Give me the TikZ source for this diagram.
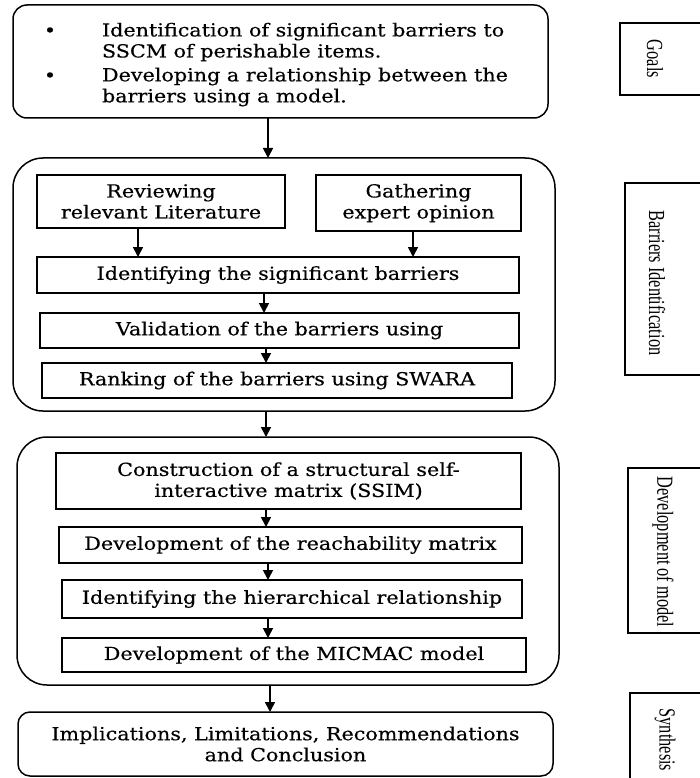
\documentclass[tikz,border=0pt]{standalone}
\usepackage{fontspec}
\usepackage{graphicx}
\setmainfont{DejaVu Serif}[FakeStretch=1.15,FakeBold=0.4]
\newfontfamily\sidefont{Liberation Serif}
\usetikzlibrary{arrows.meta}
\begin{document}
\begin{tikzpicture}[x=1pt,y=-1pt,
  every node/.style={inner sep=0pt, outer sep=0pt},
  txt/.style={font=\fontsize{18}{21}\selectfont, align=center},
  sqbox/.style={draw, line width=1.5pt, txt},
  rbox/.style={draw, line width=1.5pt, rounded corners=#1},
  sidebox/.style={draw, line width=1.5pt},
  sidetxt/.style={font=\sidefont\fontsize{23}{23}\selectfont, rotate=-90},
  arr/.style={-{Triangle[length=10pt,width=10pt]}, line width=1.7pt}]
\useasboundingbox (0,0) rectangle (700,778);
\clip (0,0) rectangle (700,778);
% Goals
\node[rbox=14pt, minimum width=535pt, minimum height=113pt] (goals) at (280.5,61.5) {};
\node[txt] (b1) at (50,32) {\textbullet};
\node[txt] (b2) at (50,77) {\textbullet};
\node[txt, anchor=west, align=left] (g1) at (102,42) {Identification of significant barriers to\\SSCM of perishable items.};
\node[txt, anchor=west, align=left] (g2) at (102,87) {Developing a relationship between the\\barriers using a model.};
% Barriers block
\node[rbox=30pt, minimum width=542pt, minimum height=253pt] (bar) at (284,284.5) {};
\node[sqbox, minimum width=248pt, minimum height=53pt] (rev) at (161,201.5) {Reviewing\\relevant Literature};
\node[sqbox, minimum width=205pt, minimum height=56pt] (gat) at (418.5,203) {Gathering\\expert opinion};
\node[sqbox, minimum width=482pt, minimum height=36pt] (ident) at (278,275) {Identifying the significant barriers};
\node[sqbox, minimum width=479pt, minimum height=35pt] (valid) at (279.5,330.5) {Validation of the barriers using};
\node[sqbox, minimum width=470pt, minimum height=35pt] (rank) at (277,380.5) {Ranking of the barriers using SWARA};
% Model block
\node[rbox=30pt, minimum width=542pt, minimum height=248pt] (model) at (288,561) {};
\node[sqbox, minimum width=465pt, minimum height=56pt] (cons) at (288.5,481) {Construction of a structural self-\\interactive matrix (SSIM)};
\node[sqbox, minimum width=463pt, minimum height=36pt] (reach) at (290.5,545) {Development of the reachability matrix};
\node[sqbox, minimum width=460pt, minimum height=38pt] (hier) at (292,599) {Identifying the hierarchical relationship};
\node[sqbox, minimum width=464pt, minimum height=34pt] (mic) at (294,655) {Development of the MICMAC model};
% Synthesis
\node[rbox=12pt, txt, minimum width=535pt, minimum height=64pt] (syn) at (285.5,744) {Implications, Limitations, Recommendations\\and Conclusion};
% arrows
\draw[arr] (goals.south -| 268,0) -- (bar.north -| 268,0);
\draw[arr] (rev.south -| 138,0) -- (ident.north -| 138,0);
\draw[arr] (gat.south -| 413,0) -- (ident.north -| 413,0);
\draw[arr] (ident.south -| 264,0) -- (valid.north -| 264,0);
\draw[arr] (valid.south -| 266,0) -- (rank.north -| 266,0);
\draw[arr] (bar.south -| 266,0) -- (model.north -| 266,0);
\draw[arr] (cons.south -| 266,0) -- (reach.north -| 266,0);
\draw[arr] (reach.south -| 268,0) -- (hier.north -| 268,0);
\draw[arr] (hier.south -| 268,0) -- (mic.north -| 268,0);
\draw[arr] (model.south -| 270,0) -- (syn.north -| 270,0);
% side labels
\node[sidebox, minimum width=100pt, minimum height=72pt] (sgoals) at (670,59) {};
\node[sidetxt] (tgoals) at (655,59) {\scalebox{0.71}[1]{Goals}};
\node[sidebox, minimum width=100pt, minimum height=192pt] (sbar) at (675,279) {};
\node[sidetxt] (tbar) at (657,283) {\scalebox{0.71}[1]{Barriers Identification}};
\node[sidebox, minimum width=100pt, minimum height=165pt] (smod) at (678,550.5) {};
\node[sidetxt] (tmod) at (663,552) {\scalebox{0.71}[1]{Development of model}};
\node[sidebox, minimum width=100pt, minimum height=107pt] (ssyn) at (680,746.5) {};
\node[sidetxt] (tsyn) at (665,740) {\scalebox{0.71}[1]{Synthesis}};
\end{tikzpicture}
\end{document}
